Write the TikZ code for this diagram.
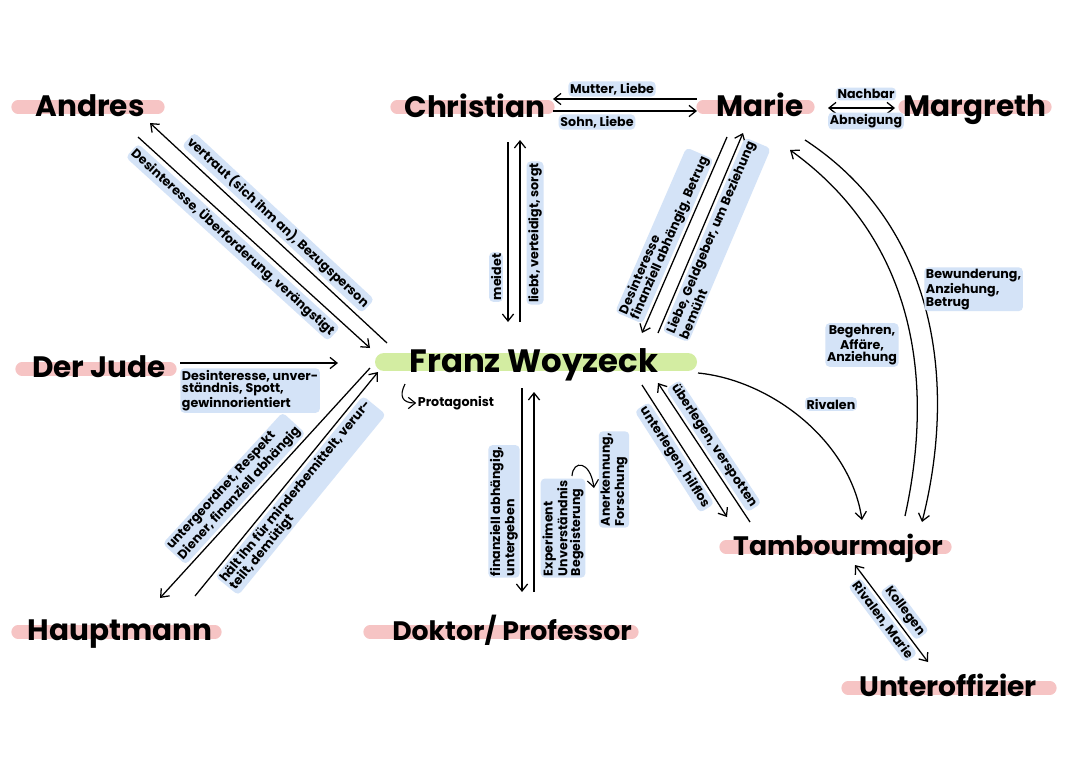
\documentclass[tikz,border=0pt]{standalone}
\usepackage{fontspec}
\setmainfont{Poppins}
\usetikzlibrary{arrows.meta}
\definecolor{pinkbar}{HTML}{F6C4C4}
\definecolor{greenbar}{HTML}{D3EDA2}
\definecolor{bluehl}{HTML}{D4E3F7}
\tikzset{
  person/.style={font=\fontsize{21}{24}\selectfont\bfseries, inner sep=0pt, text=black, anchor=base},
  lab/.style={font=\fontsize{9}{9}\selectfont\bfseries, fill=bluehl, rounded corners=3pt, inner sep=1.2pt, text=black},
  plain/.style={font=\fontsize{9}{9}\selectfont\bfseries, inner sep=1pt},
  bar/.style={pinkbar, line width=0.33cm, line cap=round},
  con/.style={line width=0.9pt, black},
}
\begin{document}
\begin{tikzpicture}[x=0.025cm,y=-0.025cm, >={Straight Barb[length=5pt,width=8pt]}]
\fill[white] (0,0) rectangle (1080,763);
\useasboundingbox (0,0) rectangle (1080,763);
% highlight bars
\draw[bar] (18,107) -- (158,107);
\draw[bar] (397,107) -- (548,107);
\draw[bar] (703,107) -- (808,107);
\draw[bar] (905,107) -- (1045,107);
\draw[bar] (22,369) -- (170,369);
\draw[bar] (18,632) -- (215,632);
\draw[bar] (370,632) -- (632,632);
\draw[bar] (726,547) -- (945,547);
\draw[bar] (848,688) -- (1050,688);
\draw[greenbar, line width=0.45cm, line cap=round] (384,362) -- (688,362);
% persons
\node[person] (andres) at (90,116) {Andres};
\node[person] (christian) at (475,117) {Christian};
\node[person] (marie) at (760,116) {Marie};
\node[person] (margreth) at (975,116) {Margreth};
\node[person] (jude) at (99,377) {Der Jude};
\node[person, font=\fontsize{23}{26}\selectfont\bfseries] (franz) at (534,372) {Franz Woyzeck};
\node[person] (haupt) at (120,640) {Hauptmann};
\node[person, font=\fontsize{19}{22}\selectfont\bfseries] (doktor) at (512,640) {Doktor/ Professor};
\node[person, font=\fontsize{19}{22}\selectfont\bfseries] (tambour) at (838,555) {Tambourmajor};
\node[person, font=\fontsize{20}{23}\selectfont\bfseries] (unter) at (948,696) {Unteroffizier};
% Andres
\coordinate (aA1) at (150,123); \coordinate (aF1) at (387,343);
\draw[con,<-] (aA1) -- node[lab, sloped, above=3pt, pos=0.5] {vertraut (sich ihm an), Bezugsperson} (aF1);
\coordinate (aA2) at (138,137); \coordinate (aF2) at (370,348);
\draw[con,->] (aA2) -- node[lab, sloped, below=3pt, pos=0.45] {Desinteresse, Überforderung, verängstigt} (aF2);
% Der Jude
\coordinate (jJ) at (180,363); \coordinate (jF) at (338,363);
\draw[con,->] (jJ) -- (jF);
\node[lab, anchor=north west, align=left] (jlab) at (180,368) {Desinteresse, unver-\\ständnis, Spott,\\gewinnorientiert};
% Hauptmann
\coordinate (hH1) at (160,598); \coordinate (hF1) at (370,368);
\draw[con,<-] (hH1) -- node[lab, sloped, above=2pt, pos=0.42, align=left] {untergeordnet, Respekt\\Diener, finanziell abhängig} (hF1);
\coordinate (hH2) at (195,596); \coordinate (hF2) at (378,372);
\draw[con,->] (hH2) -- node[lab, sloped, below=2pt, pos=0.5, align=left] {hält ihn für minderbemittelt, verur-\\teilt, demütigt} (hF2);
% Christian - Franz
\coordinate (cC1) at (508,142); \coordinate (cF1) at (508,322);
\draw[con,->] (cC1) -- (cF1);
\node[lab, rotate=90] (cl1) at (496,277) {meidet};
\coordinate (cF2) at (520,322); \coordinate (cC2) at (520,140);
\draw[con,->] (cF2) -- (cC2);
\node[lab, rotate=90] (cl2) at (535,233) {liebt, verteidigt, sorgt};
% Christian - Marie
\coordinate (cmC1) at (553,99); \coordinate (cmM1) at (697,99);
\draw[con,<-] (cmC1) -- (cmM1);
\node[lab] (cml1) at (612,89) {Mutter, Liebe};
\coordinate (cmC2) at (553,111); \coordinate (cmM2) at (697,111);
\draw[con,->] (cmC2) -- (cmM2);
\node[lab] (cml2) at (597,122) {Sohn, Liebe};
% Marie - Margreth
\coordinate (mgM) at (828,108); \coordinate (mgG) at (895,108);
\draw[con,<->] (mgM) -- (mgG);
\node[lab] (mgl1) at (866,94) {Nachbar};
\node[lab] (mgl2) at (866,121) {Abneigung};
% Marie - Franz
\coordinate (mF1) at (642,333); \coordinate (mM1) at (727,137);
\draw[con,<-] (mF1) -- node[lab, sloped, above=2pt, pos=0.46, align=left] {Desinteresse\\finanziell abhängig, Betrug} (mM1);
\coordinate (mF2) at (658,333); \coordinate (mM2) at (743,133);
\draw[con,->] (mF2) -- node[lab, sloped, below=2pt, pos=0.5, align=left] {Liebe, Geldgeber, um Beziehung\\bemüht} (mM2);
% Franz - Tambourmajor
\coordinate (tF1) at (642,385); \coordinate (tT1) at (727,517);
\draw[con,->] (tF1) -- node[lab, sloped, below=2pt, pos=0.5] {unterlegen, hilflos} (tT1);
\coordinate (tF2) at (658,383); \coordinate (tT2) at (750,522);
\draw[con,<-] (tF2) -- node[lab, sloped, above=2pt, pos=0.5] {überlegen, verspotten} (tT2);
\coordinate (rF) at (698,373); \coordinate (rT) at (862,520);
\draw[con,->] (rF) .. controls (770,380) and (850,440) .. (rT);
\node[lab] (rlab) at (831,404) {Rivalen};
% Marie - Tambourmajor
\coordinate (mtT1) at (905,516); \coordinate (mtM1) at (790,150);
\draw[con,->] (mtT1) .. controls (935,380) and (915,240) .. (mtM1);
\coordinate (mtM2) at (805,140); \coordinate (mtT2) at (922,522);
\draw[con,->] (mtM2) .. controls (935,225) and (958,380) .. (mtT2);
\node[lab, align=center] (mtl1) at (862,345) {Begehren,\\Affäre,\\Anziehung};
\node[lab, align=left, anchor=north west] (mtl2) at (924,267) {Bewunderung,\\Anziehung,\\Betrug};
% Doktor
\coordinate (dF1) at (522,388); \coordinate (dD1) at (522,592);
\draw[con,->] (dF1) -- (dD1);
\node[lab, rotate=90, anchor=west, align=left] (dl1) at (504,578) {finanziell abhängig,\\untergeben};
\coordinate (dD2) at (534,592); \coordinate (dF2) at (534,392);
\draw[con,->] (dD2) -- (dF2);
\node[lab, rotate=90, anchor=west, align=left] (dl2) at (563,578) {Experiment\\Unverständnis\\Begeisterung};
\node[lab, rotate=90, anchor=west, align=left] (dl3) at (614,528) {Anerkennung,\\Forschung};
\coordinate (dh1) at (572,476); \coordinate (dh2) at (594,488);
\draw[con,->, line width=0.8pt] (dh1) .. controls (573,460) and (590,460) .. (dh2);
% Protagonist
\node[plain] (prot) at (456,403) {Protagonist};
\coordinate (ph) at (405,384);
\draw[con,->, line width=0.8pt] (ph) .. controls (399,396) and (402,403) .. (prot.west);
% Tambourmajor - Unteroffizier
\coordinate (uT) at (855,565); \coordinate (uU) at (928,662);
\draw[con,<->] (uT) -- node[lab, sloped, above=2pt, pos=0.55] {Kollegen} node[lab, sloped, below=2pt, pos=0.5] {Rivalen, Marie} (uU);
\end{tikzpicture}
\end{document}
